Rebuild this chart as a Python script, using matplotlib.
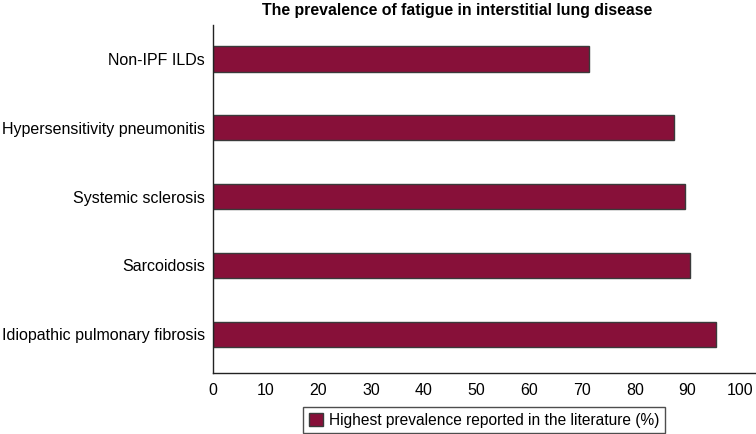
import matplotlib
matplotlib.use("Agg")
import matplotlib.pyplot as plt

plt.rcParams['font.family'] = ['Liberation Sans', 'DejaVu Sans']

# data, bottom to top
categories = ['Idiopathic pulmonary fibrosis', 'Sarcoidosis', 'Systemic sclerosis',
              'Hypersensitivity pneumonitis', 'Non-IPF ILDs']
prevalence = [95.4, 90.5, 89.6, 87.5, 71.3]
ticks = [0, 10, 20, 30, 40, 50, 60, 70, 80, 90, 100]

fig = plt.figure(figsize=(7.56, 4.34), dpi=100)
# axes spans x 213..756 px, y 25..373 px
ax = fig.add_axes([213 / 756, 1 - 373 / 434, (756 - 213) / 756, (373 - 25) / 434])

ax.barh(range(len(categories)), prevalence, height=0.37, color='#871039',
        edgecolor='#3a3a3a', linewidth=1.0,
        label='Highest prevalence reported in the literature (%)')

ax.set_xlim(0, 103)
ax.set_ylim(-0.56, 4.49)
ax.set_xticks(ticks)
ax.set_xticklabels([str(t) for t in ticks], fontsize=11.5)
ax.set_yticks(range(len(categories)))
ax.set_yticklabels(categories, fontsize=11.5)
ax.tick_params(axis='both', length=0)
ax.tick_params(axis='x', pad=7)
ax.tick_params(axis='y', pad=6)

for s in ['top', 'right']:
    ax.spines[s].set_visible(False)
for s in ['left', 'bottom']:
    ax.spines[s].set_color('#222222')
    ax.spines[s].set_linewidth(1.0)

fig.text(457 / 756, 1 - 10 / 434, 'The prevalence of fatigue in interstitial lung disease',
         ha='center', va='center', fontsize=11.4, fontweight='bold')

leg = fig.legend(loc='center', bbox_to_anchor=(484 / 756, 1 - 420 / 434),
                 fontsize=11.2, fancybox=False, edgecolor='#222222',
                 handlelength=0.9, handleheight=0.9, handletextpad=0.4,
                 borderpad=0.35, borderaxespad=0)
leg.get_frame().set_linewidth(1.0)

plt.savefig('out.png', dpi=100)
